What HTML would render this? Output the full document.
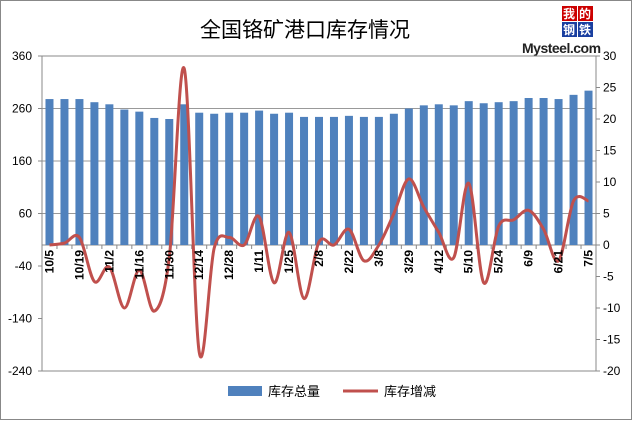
<!DOCTYPE html>
<html><head><meta charset="utf-8"><style>
body{margin:0;background:#fff;width:632px;height:420px;overflow:hidden}
text{font-family:"Liberation Sans","Noto Sans CJK SC",sans-serif}
</style></head><body>
<svg id="s" width="632" height="420" xmlns="http://www.w3.org/2000/svg">
<rect x="0.5" y="0.5" width="631" height="419" fill="#fff" stroke="#888"/>
<text x="305" y="37" font-size="21" text-anchor="middle" font-family="Noto Sans CJK SC,sans-serif" fill="#000">全国铬矿港口库存情况</text>
<g font-family="Noto Serif CJK SC,serif" font-size="12" fill="#fff" font-weight="bold">
<rect x="562" y="6" width="15" height="15" fill="#c00"/><text x="563" y="18">我</text>
<rect x="578" y="6" width="15" height="15" fill="#c00"/><text x="579" y="18">的</text>
<rect x="562" y="22" width="15" height="15" fill="#1a3fa0"/><text x="563" y="34">钢</text>
<rect x="578" y="22" width="15" height="15" fill="#1a3fa0"/><text x="579" y="34">铁</text>
</g>
<text x="522" y="53" font-size="14" font-weight="bold" fill="#222" style="letter-spacing:-0.5px">Mysteel.com</text>
<g id="grid" stroke="#999" stroke-width="1"></g>
<g id="bars" fill="#4f81bd"></g>
<path id="line" fill="none" stroke="#c0504d" stroke-width="3"/>
<g id="lbl" font-size="12" fill="#000"></g>
<rect x="228" y="386" width="34" height="10" fill="#4f81bd"/>
<text x="268" y="396" font-size="13" font-family="Noto Sans CJK SC,sans-serif">库存总量</text>
<line x1="343" y1="391" x2="378" y2="391" stroke="#c0504d" stroke-width="3"/>
<text x="384" y="396" font-size="13" font-family="Noto Sans CJK SC,sans-serif">库存增减</text>
</svg>
<script>
var NS="http://www.w3.org/2000/svg",s=document.getElementById('s');
function el(p,t,a,txt){var e=document.createElementNS(NS,t);for(var k in a)e.setAttribute(k,a[k]);if(txt)e.textContent=txt;document.getElementById(p).appendChild(e);return e;}
var L=42,R=596,T=56,B=371,Z=245;
// gridlines
[260,160,60].forEach(function(v){var y=Z-v*0.525;el('grid','line',{x1:L,x2:R,y1:y,y2:y});});
el('grid','rect',{x:L,y:T,width:R-L,height:B-T,fill:'none',stroke:'#888'});
el('grid','line',{x1:L,x2:R,y1:Z,y2:Z,stroke:'#888'});
for(var v=360;v>=-240;v-=100){var y=Z-v*0.525;el('lbl','text',{x:32,y:y+4,'text-anchor':'end'},String(v));el('grid','line',{x1:38,x2:L,y1:y,y2:y,stroke:'#888'});}
for(var r=30;r>=-20;r-=5){var y=Z-r*6.3;el('lbl','text',{x:603,y:y+4},String(r));el('grid','line',{x1:R,x2:R+4,y1:y,y2:y,stroke:'#888'});}
var bars=[278,278,278,272,268,258,254,242,240,268,252,250,252,252,256,250,252,244,244,244,246,244,244,250,260,266,268,266,274,270,272,274,280,280,278,286,294];
var ln=[0,0.3,1.2,-5.8,-3.5,-10,-4,-10.5,-2,28,-17,-0.5,1.2,0,4.5,-6,2,-8.5,0.5,0,2.5,-2.5,0,5,10.5,6,2,-2,9.8,-6,3,4,5.5,2.5,-2.5,7,7];
var labs=["10/5","10/19","11/2","11/16","11/30","12/14","12/28","1/11","1/25","2/8","2/22","3/8","3/29","4/12","5/10","5/24","6/9","6/21","7/5"];
var w=(R-L)/37,pts=[];
for(var i=0;i<37;i++){var cx=L+w*(i+0.5),h=bars[i]*0.525;
el('bars','rect',{x:cx-4,y:Z-h,width:8,height:h});
pts.push([cx,Z-ln[i]*6.3]);
el('grid','line',{x1:L+w*i,x2:L+w*i,y1:Z,y2:Z+4,stroke:'#888'});}
for(var j=0;j<labs.length;j++){var cx=L+w*(2*j+0.5);
el('lbl','text',{x:0,y:0,'font-weight':'bold','text-anchor':'end',transform:'translate('+(cx+4)+','+(Z+5)+') rotate(-90)'},labs[j]);}
var d='M'+pts[0][0]+','+pts[0][1];
for(var i=0;i<pts.length-1;i++){var p0=pts[Math.max(i-1,0)],p1=pts[i],p2=pts[i+1],p3=pts[Math.min(i+2,pts.length-1)];
d+=' C'+(p1[0]+(p2[0]-p0[0])/6)+','+(p1[1]+(p2[1]-p0[1])/6)+' '+(p2[0]-(p3[0]-p1[0])/6)+','+(p2[1]-(p3[1]-p1[1])/6)+' '+p2[0]+','+p2[1];}
document.getElementById('line').setAttribute('d',d);
</script>
</body></html>
